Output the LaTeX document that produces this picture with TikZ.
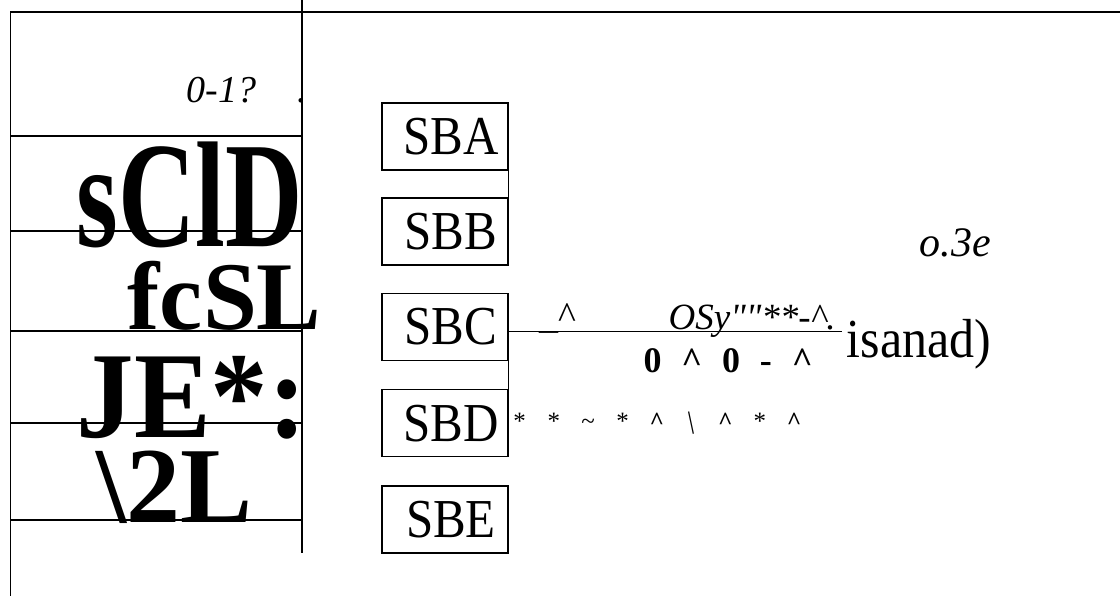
\documentclass[tikz,border=0pt]{standalone}
\usepackage{fontspec}
\usepackage{graphicx}
\setmainfont{Liberation Serif}
\newcommand\tkcell[1]{\makebox[34.3pt]{#1}}
\newcommand\boxtxt[1]{\hspace{12pt}\scalebox{1}[1.12]{#1}}
\begin{document}
\begin{tikzpicture}[x=1pt,y=-1pt,line width=1.3pt,
  lbl/.style={inner sep=0pt,anchor=base west},
  sbox/.style={draw,line width=1.3pt,minimum width=126pt,minimum height=67pt,inner sep=0pt,
    font=\fontsize{49}{49}\selectfont}]
\useasboundingbox (0,0) rectangle (1120,596);
% frame lines
\coordinate (tl) at (10.7,12);
\coordinate (tr) at (1120,12);
\coordinate (bl) at (10.7,596);
\coordinate (vt) at (302,0);
\coordinate (vb) at (302,553);
\draw (bl) -- (tl) -- (tr);
\draw (vt) -- (vb);
\foreach \yy/\nm in {136/a,231/b,331/c,423/d,520/e}{
  \coordinate (hl\nm) at (10.7,\yy);
  \coordinate (hr\nm) at (302,\yy);
  \draw (hl\nm) -- (hr\nm);
}
% boxes
\node[sbox] (sba) at (445,136.5) {\boxtxt{SBA}};
\node[sbox] (sbb) at (445,231.5) {\boxtxt{SBB}};
\node[sbox] (sbc) at (445,326.7) {\boxtxt{SBC}};
\node[sbox] (sbd) at (445,423.2) {\boxtxt{SBD}};
\node[sbox] (sbe) at (445,519.5) {\boxtxt{SBE}};
\draw (sba.south east) -- (sbb.north east);
\draw (sbc.south east) -- (sbd.north east);
\coordinate (cl) at (508,331.5);
\coordinate (cr) at (842,331.5);
\draw (cl) -- (cr);
% texts
\node[lbl,font=\itshape\fontsize{38}{38}\selectfont] (t01) at (186,103) {0-1?};
\node[lbl,font=\fontsize{38}{38}\selectfont] (tdot) at (296,103) {.};
\node[lbl] (tbig1) at (76,247) {\scalebox{1.03}[1.45]{\bfseries\fontsize{104}{104}\selectfont sClD}};
\node[lbl] (tbig2) at (127,330) {\bfseries\fontsize{97}{97}\selectfont fcSL};
\node[lbl] (tbig3) at (76,437) {\scalebox{1}[1.07]{\bfseries\fontsize{115}{115}\selectfont JE*:}};
\node[lbl] (tbig4) at (96,522) {\bfseries\fontsize{108}{108}\selectfont \textbackslash 2L};
\node[lbl,font=\fontsize{38}{38}\selectfont] (tus) at (539,328) {\_\textasciicircum};
\node[lbl,font=\itshape\fontsize{37}{37}\selectfont] (tosy) at (668,330) {OSy\textquotedbl\textquotedbl**-\textasciicircum.};
\node[lbl,font=\bfseries\fontsize{36}{36}\selectfont] (tzero) at (643,372) {0\hspace{0.55em}\textasciicircum\hspace{0.55em}0\hspace{0.55em}-\hspace{0.55em}\textasciicircum};
\node[lbl,font=\fontsize{50}{50}\selectfont] (tisa) at (846,357) {\scalebox{1}[1.1]{isanad)}};
\node[lbl,font=\itshape\fontsize{42}{42}\selectfont] (to3e) at (919,257) {o.3e};
\node[lbl,font=\fontsize{25}{25}\selectfont] (tstar) at (501.85,429) {\tkcell{*}\tkcell{*}\tkcell{\textasciitilde}\tkcell{*}\tkcell{\bfseries\textasciicircum}\tkcell{\rotatebox{12}{\textbar}}\tkcell{\bfseries\textasciicircum}\tkcell{*}\tkcell{\bfseries\textasciicircum}};
\end{tikzpicture}
\end{document}
